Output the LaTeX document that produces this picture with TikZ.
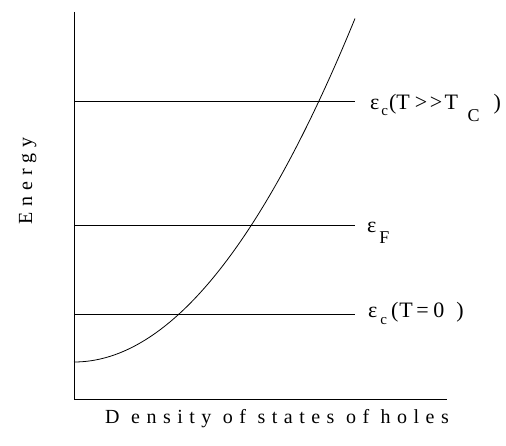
\documentclass[tikz,border=0pt]{standalone}
\usepackage{fontspec}
\setmainfont{Liberation Serif}
\newcommand\lsub[3]{\raisebox{-#2pt}{\fontsize{#1}{#1}\selectfont #3}}
\begin{document}
\begin{tikzpicture}[x=1pt,y=-1pt,
  ln/.style={line width=0.8pt},
  lab/.style={anchor=base west,inner sep=0pt,font=\fontsize{22}{24}\selectfont},
  axlab/.style={anchor=base west,inner sep=0pt,font=\fontsize{20}{22}\selectfont\addfontfeature{LetterSpace=30}},
  xlab/.style={anchor=base west,inner sep=0pt,font=\fontsize{20}{22}\selectfont\addfontfeature{LetterSpace=32.5}}]
\useasboundingbox (0,0) rectangle (506,446);
\coordinate (top) at (74,12);
\coordinate (o) at (74,399);
\coordinate (xend) at (447,399);
\draw[ln] (top) -- (o) -- (xend);
\coordinate (a1) at (74,101);
\coordinate (a2) at (74,225);
\coordinate (a3) at (74,314);
\coordinate (b1) at (355,101);
\coordinate (b2) at (355,225);
\coordinate (b3) at (355,314);
\node[lab] (l1) at (370,110) {ε\hspace{2pt}\lsub{15}{6}{c}\hspace{1pt}(T\hspace{5pt}>\hspace{2.5pt}>\hspace{2.5pt}T\hspace{9.5pt}\lsub{18}{12}{C}\hspace{14pt})};
\node[lab] (l2) at (367,233) {ε\hspace{3pt}\lsub{18}{11}{F}};
\node[lab] (l3) at (368,318) {ε\hspace{3pt}\lsub{15}{7}{c}\hspace{4pt}(\hspace{1pt}T\hspace{3.5pt}=\hspace{4.5pt}0\hspace{12pt})};
\draw[ln] (a1) -- (b1);
\draw[ln] (a2) -- (b2);
\draw[ln] (a3) -- (b3);
\draw[ln] plot[domain=0:2.81,samples=80,smooth] ({74+100*\x},{362-43.5*\x*\x});
\node[xlab] (xl) at (105,423) {D ensity of states of holes};
\node[axlab,rotate=90] (yl) at (32,225) {Energy};
\end{tikzpicture}
\end{document}
